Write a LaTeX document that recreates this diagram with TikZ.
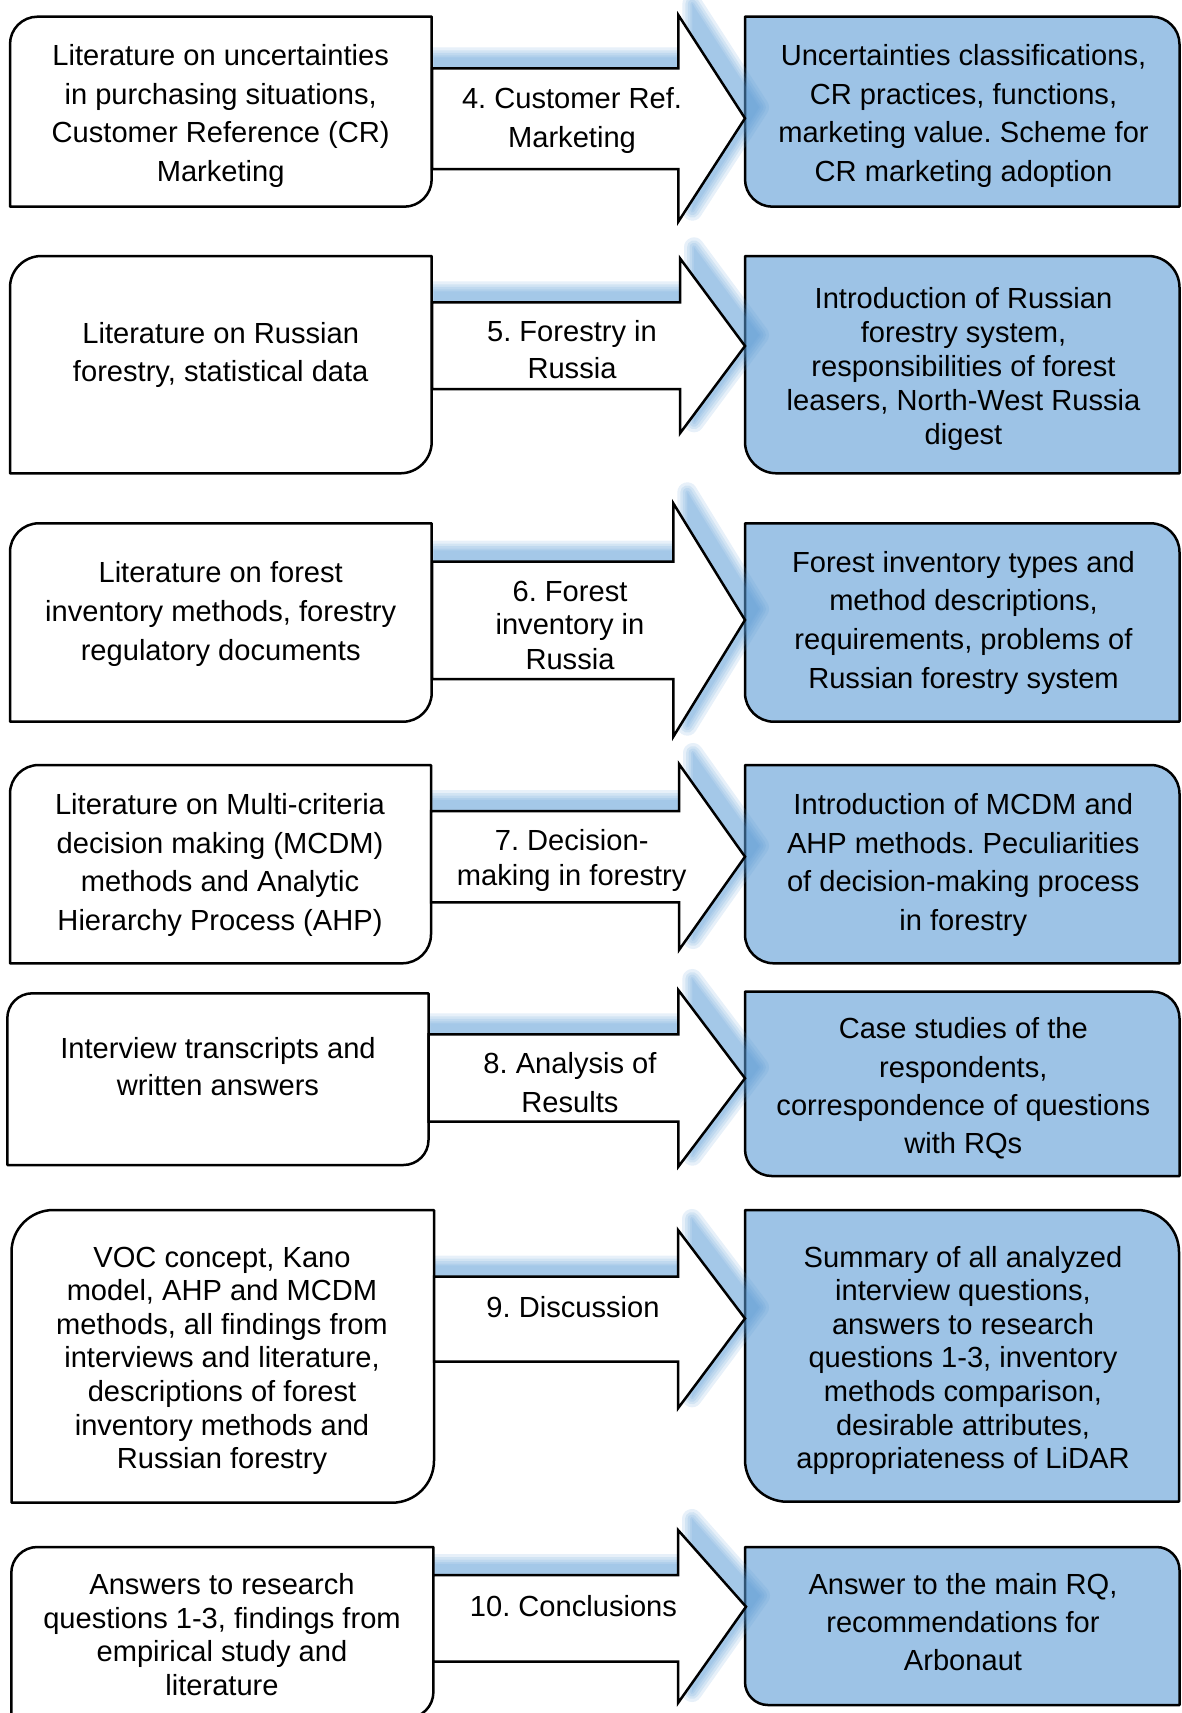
\documentclass[tikz,border=0pt]{standalone}
\usepackage{fontspec}
\setmainfont{Liberation Sans}
\frenchspacing
\definecolor{boxblue}{RGB}{157,195,230}
\definecolor{shadowblue}{RGB}{91,155,213}
% strut that centres a line box on the middle of the capitals
\newcommand\ls{\rule[-0.22em]{0pt}{1.16em}}
% box with rounded top-left and bottom-right corners: x1,y1,x2,y2,radius
\newcommand\leftbox[5]{%
  \draw[srcbox] (#1,#4) -- (#1,#2+#5)
    .. controls (#1,#2+0.448*#5) and (#1+0.448*#5,#2) .. (#1+#5,#2)
    -- (#3,#2) -- (#3,#4-#5)
    .. controls (#3,#4-0.448*#5) and (#3-0.448*#5,#4) .. (#3-#5,#4) -- cycle;}
% box with rounded top-right and bottom-left corners: x1,y1,x2,y2,radius
\newcommand\rightbox[5]{%
  \draw[resbox] (#1,#2) -- (#3-#5,#2)
    .. controls (#3-0.448*#5,#2) and (#3,#2+0.448*#5) .. (#3,#2+#5)
    -- (#3,#4) -- (#1+#5,#4)
    .. controls (#1+0.448*#5,#4) and (#1,#4-0.448*#5) .. (#1,#4-#5) -- cycle;}
\tikzset{
  outline/.style={draw=black, line width=2.5pt},
  srcbox/.style={outline, fill=white, line join=round},
  resbox/.style={outline, fill=boxblue, line join=round},
  blockarrow/.style={outline, fill=white, line join=miter},
  lbl/.style={inner sep=0pt, align=center, font=\fontsize{29.1}{#1}\selectfont},
  lbl/.default=38.4
}
\begin{document}
\begin{tikzpicture}[x=1pt,y=-1pt]
\useasboundingbox (0,0) rectangle (1182,1713);

% result boxes
\rightbox{745}{16.7}{1179.5}{206.7}{27.5}
\rightbox{745}{256}{1179.5}{473.3}{31.5}
\rightbox{745}{523.3}{1179.5}{721.7}{28.8}
\rightbox{745}{765}{1179.5}{963.3}{28.8}
\rightbox{745}{991.7}{1179.5}{1176}{26.7}
\rightbox{745}{1210}{1179}{1501.7}{42}
\rightbox{745}{1547}{1179.5}{1705}{23}

% soft blue shadows behind the block arrows
\foreach \aL/\aT/\aB/\aH/\aHt/\aHb/\aX/\aY in {
  432/68.3/169/678.3/15/221.7/745/118.3,
  432/302.3/389/680/258.3/433.3/745/346,
  432/561.7/679/673.3/503.3/736.7/745/620,
  431/811/902.3/679/764/950/745/856.7,
  428.5/1034.3/1121.7/678.3/990/1166.7/745/1078.3,
  434/1276.7/1361.7/678/1230/1408.3/745/1318.5,
  433.4/1575/1661.7/678/1530/1703/746/1606.7}{
  \foreach \w in {20,14,9,4,0.1}{
    \begin{scope}[transparency group, opacity=0.15]
      \path[fill=shadowblue, draw=shadowblue, line width=\w pt, line join=round]
        (\aL+2,\aT-11) -- (\aH+14,\aT-11) -- (\aH+14,\aHt-11) -- (\aX+14,\aY-11)
        -- (\aH+14,\aHb-11) -- (\aH+14,\aB-11) -- (\aL+2,\aB-11) -- cycle;
    \end{scope}
  }
}

% source boxes
\leftbox{10}{16.7}{431.7}{206.7}{27.5}
\leftbox{10}{256}{431.7}{473.3}{31.5}
\leftbox{10}{523.3}{431.7}{721.7}{28.8}
\leftbox{10}{765}{431}{963.3}{28.8}
\leftbox{7.3}{993.3}{428.5}{1165}{25}
\leftbox{11.5}{1210}{434}{1502.7}{42}
\leftbox{11.3}{1547}{433.4}{1718}{26}

% block arrows
\foreach \aL/\aT/\aB/\aH/\aHt/\aHb/\aX/\aY in {
  432/68.3/169/678.3/15/221.7/745/118.3,
  432/302.3/389/680/258.3/433.3/745/346,
  432/561.7/679/673.3/503.3/736.7/745/620,
  431/811/902.3/679/764/950/745/856.7,
  428.5/1034.3/1121.7/678.3/990/1166.7/745/1078.3,
  434/1276.7/1361.7/678/1230/1408.3/745/1318.5,
  433.4/1575/1661.7/678/1530/1703/746/1606.7}{
  \draw[blockarrow] (\aL,\aT) -- (\aH,\aT) -- (\aH,\aHt) -- (\aX,\aY)
    -- (\aH,\aHb) -- (\aH,\aB) -- (\aL,\aB) -- cycle;
}

% source texts
\node[lbl=38.5] (in4) at (220.7,112.8) {\ls Literature on uncertainties\\in purchasing situations,\\Customer Reference (CR)\\\ls Marketing};
\node[lbl=38.4] (in5) at (220.7,352) {\ls Literature on Russian\\\ls forestry, statistical data};
\node[lbl=39] (in6) at (220.7,610.6) {\ls Literature on forest\\inventory methods, forestry\\\ls regulatory documents};
\node[lbl=38.9] (in7) at (220,862) {\ls Literature on Multi-criteria\\decision making (MCDM)\\methods and Analytic\\\ls Hierarchy Process (AHP)};
\node[lbl=36.7] (in8) at (218,1066.7) {\ls Interview transcripts and\\\ls written answers};
\node[lbl=33.6] (in9) at (222,1357.5) {\ls VOC concept, Kano\\model, AHP and MCDM\\methods, all findings from\\interviews and literature,\\descriptions of forest\\inventory methods and\\\ls Russian forestry};
\node[lbl=33.8] (in10) at (222,1634.5) {\ls Answers to research\\questions 1-3, findings from\\empirical study and\\\ls literature};

% chapter labels on the arrows
\node[lbl=38.3] (ch4) at (572,117.5) {\ls 4. Customer Ref.\\\ls Marketing};
\node[lbl=37.6] (ch5) at (572,349.5) {\ls 5. Forestry in\\\ls Russia};
\node[lbl=33.3] (ch6) at (570,625) {\ls 6. Forest\\inventory in\\\ls Russia};
\node[lbl=35] (ch7) at (571.7,857.5) {\ls 7. Decision-\\\ls making in forestry};
\node[lbl=38.3] (ch8) at (570,1082.5) {\ls 8. Analysis of\\\ls Results};
\node[lbl] (ch9) at (573,1306.7) {\ls 9. Discussion};
\node[lbl] (ch10) at (573.5,1606) {\ls 10. Conclusions};

% result texts
\node[lbl=38.5] (out4) at (963.5,112.8) {\ls Uncertainties classifications,\\CR practices, functions,\\marketing value. Scheme for\\\ls CR marketing adoption};
\node[lbl=33.9] (out5) at (963.5,366.3) {\ls Introduction of Russian\\forestry system,\\responsibilities of forest\\leasers, North-West Russia\\\ls digest};
\node[lbl=38.6] (out6) at (963.5,619.7) {\ls Forest inventory types and\\method descriptions,\\requirements, problems of\\\ls Russian forestry system};
\node[lbl=38.9] (out7) at (963.3,862) {\ls Introduction of MCDM and\\AHP methods. Peculiarities\\of decision-making process\\\ls in forestry};
\node[lbl=38.3] (out8) at (963.3,1085.8) {\ls Case studies of the\\respondents,\\correspondence of questions\\\ls with RQs};
\node[lbl=33.6] (out9) at (963,1357.5) {\ls Summary of all analyzed\\interview questions,\\answers to research\\questions 1-3, inventory\\methods comparison,\\desirable attributes,\\\ls appropriateness of LiDAR};
\node[lbl=38.2] (out10) at (963,1622) {\ls Answer to the main RQ,\\recommendations for\\\ls Arbonaut};
\end{tikzpicture}
\end{document}
